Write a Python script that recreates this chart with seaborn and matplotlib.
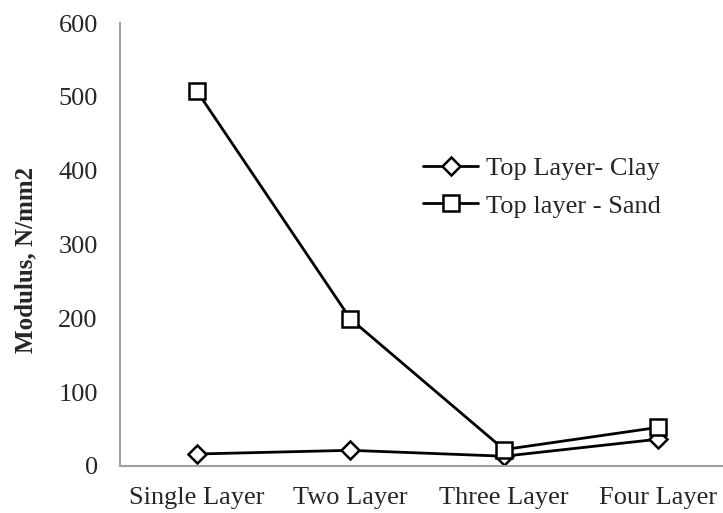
import pandas as pd
import matplotlib.pyplot as plt
import seaborn as sns

categories = ["Single Layer", "Two Layer", "Three Layer", "Four Layer"]
clay = [16, 21, 13, 36]
sand = [508, 199, 22, 52]
series_names = ["Top Layer- Clay", "Top layer - Sand"]

df = pd.DataFrame({
    "layer": categories * 2,
    "modulus": clay + sand,
    "series": [series_names[0]] * 4 + [series_names[1]] * 4,
})

sns.set_style("white")
plt.rcParams["font.family"] = ["Liberation Serif", "DejaVu Serif"]

fig = plt.figure(figsize=(7.23, 5.13), dpi=100)
ax = fig.add_axes([0.166, 0.092, 0.85, 0.863])

sns.lineplot(data=df, x="layer", y="modulus", hue="series", style="series",
             markers={series_names[0]: "D", series_names[1]: "s"}, dashes=False,
             palette={series_names[0]: "black", series_names[1]: "black"},
             linewidth=2, markersize=11, markerfacecolor="white",
             markeredgecolor="black", markeredgewidth=1.8, ax=ax, sort=False)
for line in ax.lines:
    if line.get_marker() == "D":
        line.set_markersize(9)

ax.set_xlim(-0.5, 3.5)
ax.set_ylim(0, 600)
ax.set_yticks(range(0, 601, 100))
ax.tick_params(axis="both", length=0, labelsize=19)
ax.tick_params(axis="y", pad=16)
ax.tick_params(axis="x", pad=15)
ax.set_xlabel("")
ax.set_ylabel("Modulus, N/mm2", fontsize=18, fontweight="bold")
ax.yaxis.set_label_coords(-0.135, 0.465)

for side in ["top", "right"]:
    ax.spines[side].set_visible(False)
for side in ["left", "bottom"]:
    ax.spines[side].set_color("#a0a0a0")
    ax.spines[side].set_linewidth(1.5)

leg = ax.legend(loc="upper left", bbox_to_anchor=(423 / 723, 1 - 157 / 513),
                bbox_transform=fig.transFigure, frameon=False, borderpad=0,
                borderaxespad=0, fontsize=19, handlelength=2.1,
                handletextpad=0.27, labelspacing=0.52)
for h in leg.legend_handles:
    h.set_markerfacecolor("white")
    h.set_markeredgecolor("black")

fig.savefig("out.png", dpi=100)
